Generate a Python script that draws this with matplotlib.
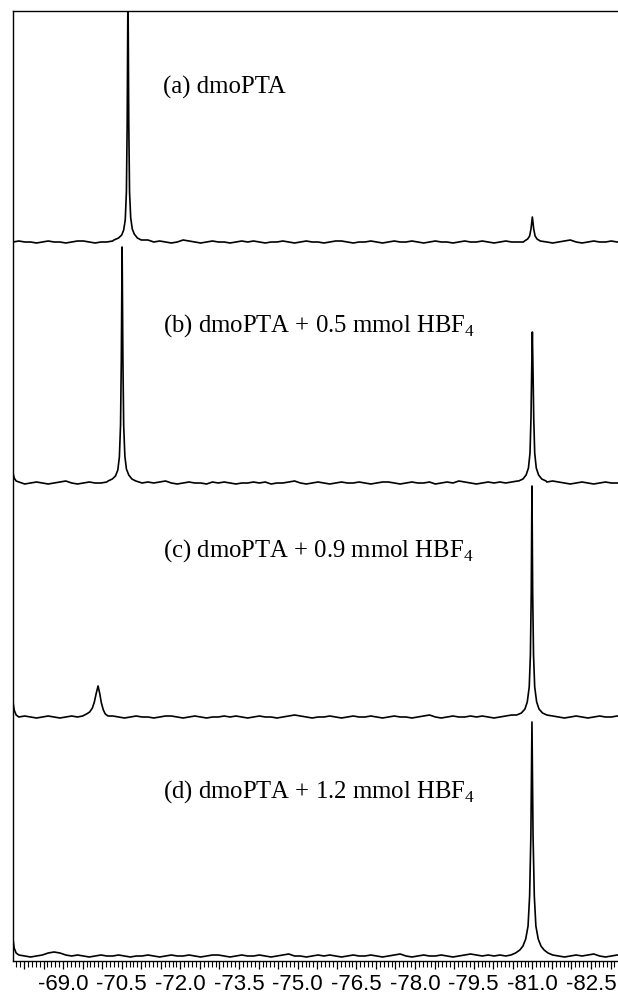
import numpy as np
import matplotlib.pyplot as plt
from matplotlib.ticker import MultipleLocator, FuncFormatter

plt.rcParams['axes.unicode_minus'] = False

# baseline grid (ppm), noise in pixel units
ppm_start = -67.72
ppm_step = 0.15

noise_a = [0, 1, 0, 0, -1, 0, 1, 0, 0, -1,
           0, 1, 1, 0, -1, 0, 0, 1, 0, 0,
           0, 0, 1, 2, 0, 1, 0, -1, 0, 2,
           1, 0, -1, 0, 1, 0, 0, -1, 0, 1,
           0, 1, 0, -1, 0, 0, 1, 0, -1, 0,
           1, 0, 0, -1, 0, 1, 1, 0, -1, 0,
           0, 1, 0, -1, 0, 1, 0, 0, 1, 0,
           -1, 0, 1, 0, 0, -1, 0, 1, 0, 0,
           1, 0, -1, 0, 1, 0, 0, 0, 0, 0,
           1, 0, -1, 0, 1, 2, 0, -1, 0, 1,
           0, 0, 1, 0]
noise_b = [0, 1, -1, 0, 1, 0, -1, 0, 1, 2,
           0, -1, 0, 1, 0, 0, 1, 0, 0, 0,
           0, -1, 0, 1, 0, 1, 2, 0, -1, 0,
           1, 0, 0, -1, 1, 0, 1, 0, -1, 0,
           0, 1, 0, 1, -1, 0, 0, 1, 2, 0,
           -1, 0, 1, 0, -1, 0, 1, 0, 0, 1,
           0, -1, 0, 1, 1, 0, -1, 0, 1, 0,
           0, 1, -1, 0, 1, 0, 2, 1, 0, -1,
           0, 1, 0, 1, 0, 1, 2, 0, 0, 0,
           0, 1, 2, 1, 0, -1, 0, 1, 0, -1,
           0, 1, 0, 0]
noise_c = [0, 0, 1, 0, -1, 0, 1, 0, -1, 0,
           1, 0, 0, 0, 0, 0, 0, 1, 0, -1,
           0, 1, 0, 0, -1, 0, 1, 1, 0, -1,
           0, 1, 0, -1, 0, 0, 1, 0, 1, 0,
           -1, 0, 1, 0, 0, -1, 0, 1, 2, 1,
           0, -1, 0, 0, 1, 0, -1, 0, 1, 0,
           0, 1, 0, -1, 0, 1, 0, 0, -1, 0,
           1, 2, 0, -1, 0, 1, 0, 0, 1, 0,
           1, 0, -1, 0, 1, 2, 0, 0, 0, 0,
           0, 2, 1, 0, -1, 0, 1, 0, -1, 0,
           1, 0, 0, 1]
noise_d = [0, 1, 0, -1, 0, 1, 3, 4, 3, 1,
           0, 1, 0, -1, 0, 1, 0, 0, 1, 0,
           -1, 0, 0, 1, 0, -1, 0, 1, 0, 0,
           1, 0, -1, 0, 1, 1, 0, -1, 0, 1,
           0, 0, 1, 0, -1, 0, 1, 2, 0, 0,
           -1, 0, 1, 0, 1, 0, -1, 0, 1, 0,
           0, 1, 0, -1, 0, 1, 2, 0, -1, 0,
           1, 0, 0, 1, 0, -1, 0, 1, 2, 1,
           0, 1, 0, 1, 0, 0, 0, 0, 0, 0,
           0, 0, 1, 0, -1, 0, 1, 0, 1, 2,
           0, -1, 0, 1]

# peaks (ppm, height)
a_p1_ppm = [-70.30, -70.42, -70.50, -70.55, -70.59, -70.62, -70.64, -70.66,
            -70.68, -70.70, -70.73, -70.77, -70.82, -70.90, -71.00]
a_p1_h = [2, 4, 7, 12, 22, 50, 120, 260, 120, 50, 24, 13, 8, 4, 2]
a_p2_ppm = [-80.80, -80.88, -80.93, -80.965, -81.0, -81.035, -81.07, -81.12, -81.2]
a_p2_h = [1, 3, 6, 13, 25, 13, 6, 3, 1]

b_edge_ppm = [-67.72, -67.75, -67.8]
b_edge_h = [10, 5, 2]
b_p1_ppm = [-70.15, -70.26, -70.34, -70.40, -70.44, -70.47, -70.49, -70.51,
            -70.53, -70.55, -70.58, -70.62, -70.68, -70.76, -70.86]
b_p1_h = [2, 4, 7, 13, 26, 58, 125, 236, 125, 58, 27, 14, 8, 4, 2]
b_p2_ppm = [-80.65, -80.76, -80.84, -80.90, -80.94, -80.965, -80.982, -81.0,
            -81.018, -81.035, -81.06, -81.10, -81.16, -81.24, -81.35]
b_p2_h = [2, 4, 8, 15, 30, 65, 110, 151, 110, 65, 30, 15, 8, 4, 2]

c_edge_ppm = [-67.72, -67.75, -67.8]
c_edge_h = [15, 7, 2]
c_p1_ppm = [-69.5, -69.6, -69.68, -69.75, -69.8, -69.85, -69.895, -69.94,
            -69.98, -70.03, -70.08, -70.15]
c_p1_h = [1, 3, 5, 9, 15, 24, 31, 23, 14, 7, 3, 1]
c_p2_ppm = [-80.60, -80.72, -80.81, -80.87, -80.92, -80.95, -80.972, -80.99,
            -81.008, -81.03, -81.06, -81.11, -81.17, -81.26, -81.37]
c_p2_h = [2, 4, 8, 15, 30, 62, 125, 231, 125, 62, 30, 15, 8, 4, 2]

d_edge_ppm = [-67.72, -67.75, -67.8]
d_edge_h = [17, 8, 3]
d_p1_ppm = [-80.45, -80.57, -80.68, -80.76, -80.83, -80.89, -80.93, -80.962, -80.99,
            -81.018, -81.05, -81.09, -81.15, -81.22, -81.30, -81.40, -81.52]
d_p1_h = [1, 3, 6, 10, 17, 30, 60, 120, 234, 120, 60, 30, 17, 10, 6, 3, 1]

labels = ["(a) dmoPTA",
          "(b) dmoPTA + 0.5 mmol HBF$_\\mathregular{4}$",
          "(c) dmoPTA + 0.9 mmol HBF$_\\mathregular{4}$",
          "(d) dmoPTA + 1.2 mmol HBF$_\\mathregular{4}$"]

traces = [(noise_a, [(a_p1_ppm, a_p1_h), (a_p2_ppm, a_p2_h)]),
          (noise_b, [(b_edge_ppm, b_edge_h), (b_p1_ppm, b_p1_h), (b_p2_ppm, b_p2_h)]),
          (noise_c, [(c_edge_ppm, c_edge_h), (c_p1_ppm, c_p1_h), (c_p2_ppm, c_p2_h)]),
          (noise_d, [(d_edge_ppm, d_edge_h), (d_p1_ppm, d_p1_h)])]

offsets = [719, 478, 244, 5]
label_y = [0.919, 0.669, 0.432, 0.178]


def build_trace(noise, peaks):
    x = ppm_start - ppm_step * np.arange(len(noise))
    y = np.array(noise, dtype=float)
    keep = np.ones(len(x), dtype=bool)
    xs, ys = [], []
    for px, ph in peaks:
        lo, hi = min(px), max(px)
        keep &= ~((x >= lo - 0.02) & (x <= hi + 0.02))
        xs += list(px)
        ys += list(ph)
    xx = np.concatenate([x[keep], xs])
    yy = np.concatenate([y[keep], ys])
    order = np.argsort(-xx)
    return xx[order], yy[order]


fig = plt.figure(figsize=(6.18, 9.96), dpi=100)
ax = fig.add_axes([13 / 618, 35 / 996, 605 / 618, 950 / 996])

for (noise, peaks), off, lab, ly in zip(traces, offsets, labels, label_y):
    x, y = build_trace(noise, peaks)
    ax.plot(x, y + off, color='black', lw=1.2)
    ax.text(0.248, ly, lab, transform=ax.transAxes, ha='left', va='center',
            fontsize=17.8, family='Liberation Serif')

ax.set_xlim(-67.72, -83.19)
ax.set_ylim(0, 950)
ax.set_yticks([])
ax.spines['right'].set_visible(False)
for s in ['left', 'top', 'bottom']:
    ax.spines[s].set_linewidth(1.0)

ax.xaxis.set_major_locator(MultipleLocator(0.5))
ax.xaxis.set_minor_locator(MultipleLocator(0.1))


def fmt(v, pos):
    k = round(v / 1.5)
    if abs(k * 1.5 - v) < 1e-6:
        return "%.1f" % v
    return ""


ax.xaxis.set_major_formatter(FuncFormatter(fmt))
ax.tick_params(axis='x', which='major', length=6, width=0.9, direction='out', pad=3)
ax.tick_params(axis='x', which='minor', length=4.5, width=0.8, direction='out')
for t in ax.get_xticklabels():
    t.set_family('Liberation Sans')
    t.set_fontsize(16)

fig.savefig('out.png', dpi=100)
